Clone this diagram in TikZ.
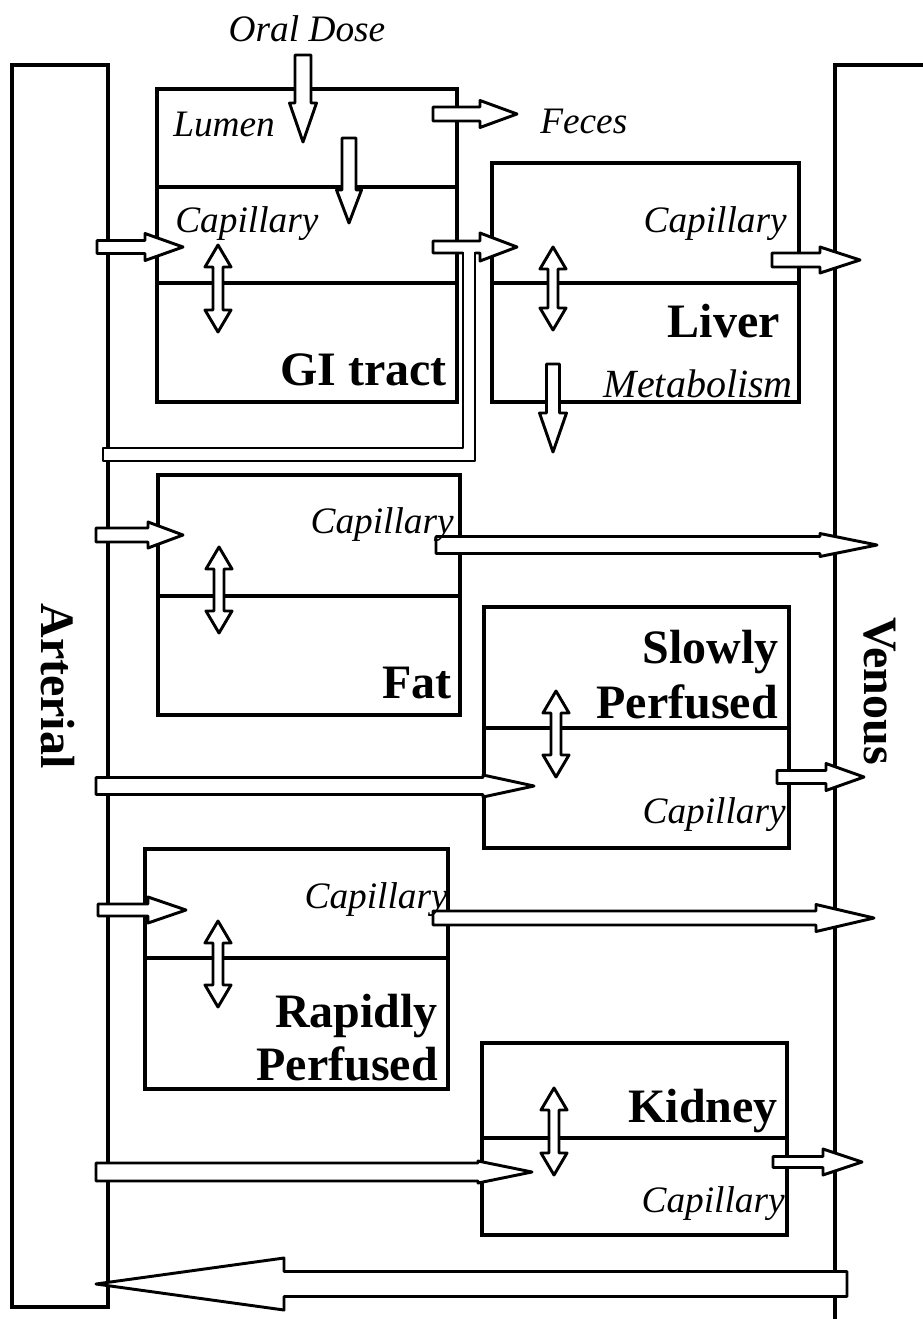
\documentclass[tikz,border=0pt]{standalone}
\usepackage{fontspec}
\setmainfont{Liberation Serif}
\newcommand{\rblk}[6]{\draw[blk] (#1,#4-#5) -- (#2,#4-#5) -- (#2,#4-#6) -- (#3,#4) -- (#2,#4+#6) -- (#2,#4+#5) -- (#1,#4+#5) -- cycle;}
\newcommand{\dblk}[6]{\draw[blk] (#1-#5,#2) -- (#1-#5,#3) -- (#1-#6,#3) -- (#1,#4) -- (#1+#6,#3) -- (#1+#5,#3) -- (#1+#5,#2) -- cycle;}
\newcommand{\vdbl}[3]{\draw[blk] (#1,#2) -- (#1+13,#2+22) -- (#1+5,#2+22) -- (#1+5,#3-22) -- (#1+13,#3-22) -- (#1,#3) -- (#1-13,#3-22) -- (#1-5,#3-22) -- (#1-5,#2+22) -- (#1-13,#2+22) -- cycle;}
\tikzset{
  organ/.style={draw=black, line width=2.4pt},
  divider/.style={draw=black, line width=2.4pt},
  blk/.style={draw=black, fill=white, line width=2.2pt, line join=round},
  bar/.style={draw=black, line width=2.4pt},
  itl/.style={inner sep=0pt, font=\fontsize{28}{30}\selectfont\itshape},
  bld/.style={inner sep=0pt, font=\fontsize{36}{38}\selectfont\bfseries},
}
\begin{document}
\begin{tikzpicture}[x=0.75pt, y=-0.75pt]
\useasboundingbox (0,0) rectangle (923,1319);

% blood pools
\draw[bar] (12,65) rectangle (108,1307);
\draw[bar] (835,1319) -- (835,65) -- (923,65);

% organ boxes
\draw[organ] (157,89) rectangle (457,402);
\draw[divider] (157,187) -- (457,187);
\draw[divider] (157,283) -- (457,283);
\draw[organ] (492,163) rectangle (799,402);
\draw[divider] (492,283) -- (799,283);
\draw[organ] (158,475) rectangle (460,715);
\draw[divider] (158,596) -- (460,596);
\draw[organ] (484,607) rectangle (789,848);
\draw[divider] (484,728) -- (789,728);
\draw[organ] (145,849) rectangle (448,1089);
\draw[divider] (145,958) -- (448,958);
\draw[organ] (482,1043) rectangle (787,1235);
\draw[divider] (482,1138) -- (787,1138);

% flow arrows
\dblk{303}{55}{103}{142}{8}{13.5}
\dblk{349}{138}{190}{223}{7}{12.5}
\dblk{553}{364}{413}{452}{6.5}{13.5}
\rblk{97}{145}{183}{247}{6.5}{13.5}
\rblk{433}{480}{517}{114}{7}{13.5}
\rblk{433}{480}{517}{247}{6}{14}
\rblk{772}{820}{860}{260}{7}{13}
\rblk{96}{148}{183}{535}{7}{13}
\rblk{436}{820}{877}{545}{8.5}{11.5}
\rblk{96}{483}{534}{786}{8.5}{11}
\rblk{777}{826}{864}{777}{6.5}{13.5}
\rblk{98}{148}{186}{910}{6}{13}
\rblk{433}{816}{874}{918}{7}{13.5}
\rblk{96}{478}{532}{1172}{9}{11}
\rblk{773}{823}{862}{1162}{5.5}{13}
\rblk{847}{284}{96}{1284}{12.5}{26}

% exchange arrows
\vdbl{218}{245}{332}
\vdbl{553}{247}{330}
\vdbl{219}{547}{633}
\vdbl{556}{691}{777}
\vdbl{218}{921}{1007}
\vdbl{554}{1088}{1175}

% hepatic artery pipe
\fill[white] (103,448) -- (463,448) -- (463,251) -- (475,251) -- (475,461) -- (103,461) -- cycle;
\draw[line width=2.2pt, line join=round] (463,252) -- (463,448) -- (103,448) -- (103,461) -- (475,461) -- (475,252);

% labels
\node[itl, anchor=base] (oral) at (307,42) {Oral Dose};
\node[itl, anchor=base west] (lumen) at (173,137) {Lumen};
\node[itl, anchor=base west] (feces) at (540,134) {Feces};
\node[itl, anchor=base west] (gicap) at (175,233) {Capillary};
\node[bld, anchor=base east] (gi) at (447,385) {GI tract};
\node[itl, anchor=base east] (livcap) at (787,233) {Capillary};
\node[bld, anchor=base east] (liver) at (780,337) {Liver};
\node[itl, anchor=base east, font=\fontsize{30}{32}\selectfont\itshape] (metab) at (793,397) {Metabolism};
\node[itl, anchor=base east] (fatcap) at (454,533) {Capillary};
\node[bld, anchor=base east] (fat) at (452,698) {Fat};
\node[bld, anchor=base east] (slow1) at (779,663) {Slowly};
\node[bld, anchor=base east] (slow2) at (778,718) {Perfused};
\node[itl, anchor=base east] (slowcap) at (786,823) {Capillary};
\node[itl, anchor=base east] (rapcap) at (448,908) {Capillary};
\node[bld, anchor=base east] (rap1) at (438,1027) {Rapidly};
\node[bld, anchor=base east] (rap2) at (438,1080) {Perfused};
\node[bld, anchor=base east] (kid) at (778,1122) {Kidney};
\node[itl, anchor=base east] (kidcap) at (785,1212) {Capillary};
\node[bld, anchor=base, rotate=-90] (art) at (41,686) {Arterial};
\node[bld, anchor=base, rotate=-90] (ven) at (864,691) {Venous};
\end{tikzpicture}
\end{document}
